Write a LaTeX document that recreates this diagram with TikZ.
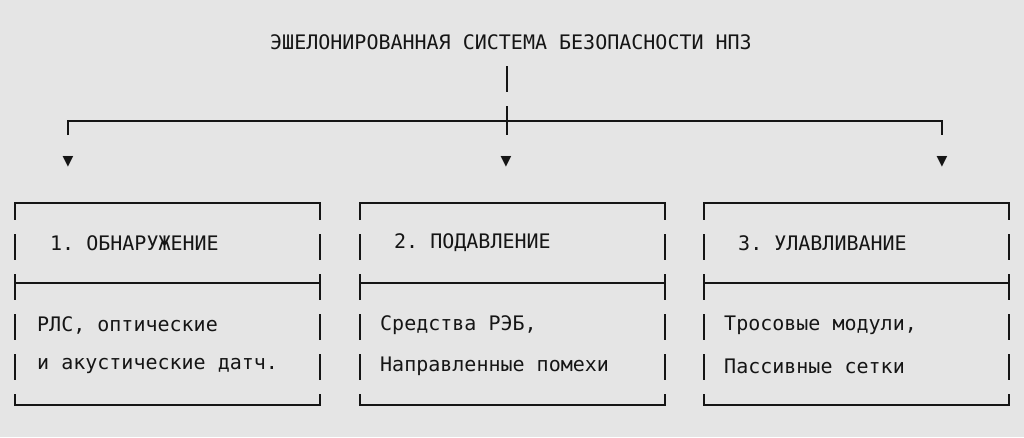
\documentclass[tikz,border=0pt]{standalone}
\usepackage{fontspec}
\setmonofont{DejaVu Sans Mono}
\usetikzlibrary{positioning}
\definecolor{bg}{HTML}{E5E5E5}
\definecolor{ink}{HTML}{151515}
\tikzset{
    txt/.style={font=\ttfamily\fontsize{20}{24}\selectfont, text=ink, inner sep=0pt, anchor=west},
    frame/.style={draw=ink, line width=1.6pt},
    side/.style={frame, dash pattern=on 26pt off 14pt, dash phase=9pt},
    tip/.style={font=\ttfamily\fontsize{18}{20}\selectfont, text=ink, inner sep=0pt}
}
\begin{document}
\begin{tikzpicture}[x=1pt, y=-1pt]
    \fill[bg] (0,0) rectangle (1024,437);
    \useasboundingbox (0,0) rectangle (1024,437);

    % title and branches
    \node[txt, anchor=center] (title) at (511,42) {ЭШЕЛОНИРОВАННАЯ СИСТЕМА БЕЗОПАСНОСТИ НПЗ};
    \coordinate (trunk) at (507,66);
    \coordinate (fork) at (507,121);
    \draw[frame] (trunk) -- (507,92);
    \draw[frame] (507,106) -- (507,135);
    \draw[frame] (68,135) -- (68,121) -- (942,121) -- (942,135);

    \node[tip] (a1) at (68,162) {▼};
    \node[tip] (a2) at (506,162) {▼};
    \node[tip] (a3) at (942,162) {▼};

    % boxes
    \foreach \x/\n in {15/1, 360/2, 704/3} {
        \draw[frame] (\x,210) -- (\x,203) -- (\x+305,203) -- (\x+305,210);
        \draw[frame] (\x,283) -- (\x+305,283);
        \draw[frame] (\x,396) -- (\x,405) -- (\x+305,405) -- (\x+305,396);
        \draw[side] (\x,203) -- (\x,405);
        \draw[side] (\x+305,203) -- (\x+305,405);
        \coordinate (box\n) at (\x,243);
    }

    \node[txt, right=35pt of box1] (head1) {1. ОБНАРУЖЕНИЕ};
    \node[txt, right=34pt of box2] (head2) {2. ПОДАВЛЕНИЕ};
    \node[txt, right=34pt of box3] (head3) {3. УЛАВЛИВАНИЕ};

    \node[txt] (body1a) at (37,325) {РЛС, оптические};
    \node[txt] (body1b) at (37,366) {и акустические датч.};
    \node[txt] (body2a) at (380,325) {Средства РЭБ,};
    \node[txt] (body2b) at (380,366) {Направленные помехи};
    \node[txt] (body3a) at (724,325) {Тросовые модули,};
    \node[txt] (body3b) at (724,366) {Пассивные сетки};
\end{tikzpicture}
\end{document}
